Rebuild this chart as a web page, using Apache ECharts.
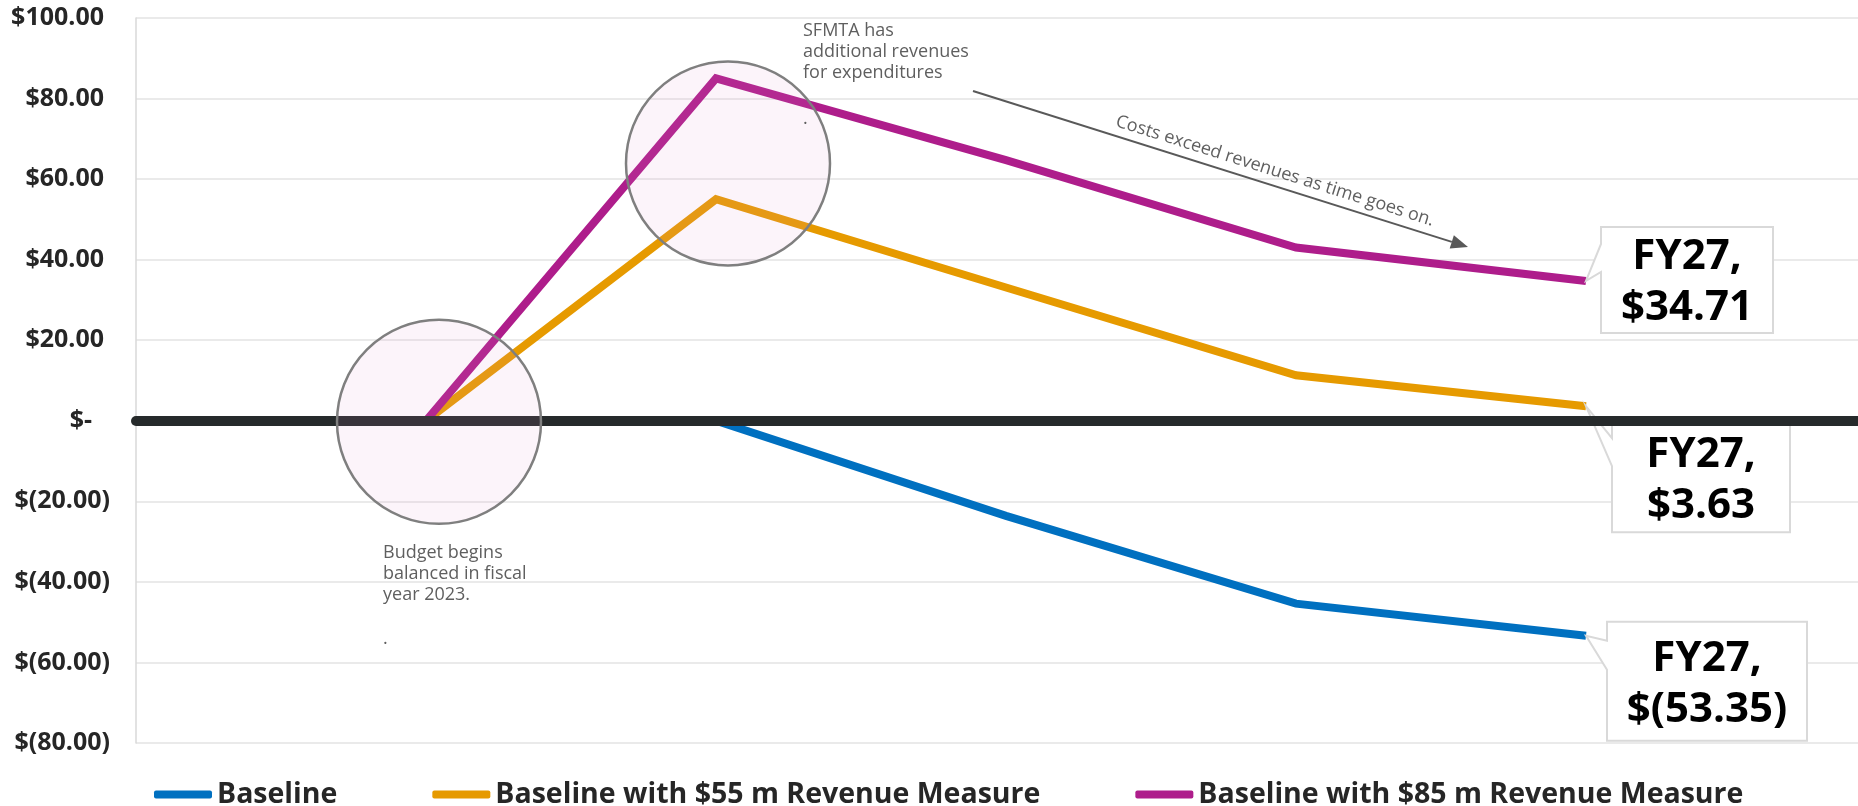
<!DOCTYPE html>
<html>
<head>
<meta charset="utf-8">
<title>SFMTA operating budget outlook</title>
<script src="https://cdn.jsdelivr.net/npm/echarts@6/dist/echarts.min.js"></script>
<style>
  html, body { margin: 0; padding: 0; background: #fff; }
  #chart { width: 1858px; height: 806px; }
</style>
</head>
<body>
<div id="chart"></div>
<script>
// fiscal years (the x axis carries no labels in the original)
const categories = ['FY23', 'FY24', 'FY25', 'FY26', 'FY27']
const fiscalYears = [2023, 2024, 2025, 2026, 2027]

// surplus / (deficit), $ millions
const baseline = [0, 0, -23.6, -45.4, -53.35]
const with55m = [0, 55, 33.1, 11.3, 3.63]
const with85m = [0, 85, 64.7, 43.0, 34.71]

const seriesNames = ['Baseline', 'Baseline with $55 m Revenue Measure', 'Baseline with $85 m Revenue Measure']
const seriesColors = ['#0070c0', '#e69a00', '#ae1d8b']
const seriesValues = [baseline, with55m, with85m]

// y ticks: $(80.00) .. $100.00 step 20
const yMin = -80
const yMax = 100
const yStep = 20

const FONT = '"Open Sans", "Noto Sans", sans-serif'
const DARK = '#262626'
const NOTE = '#5f5f5f'

// excel accounting style
const money = v => v === 0 ? '$-' : v > 0 ? '$' + v.toFixed(2) : '$(' + Math.abs(v).toFixed(2) + ')'

const chart = echarts.init(document.getElementById('chart'))

chart.setOption({
    animation: false,
    backgroundColor: '#fff',
    // plot runs a little past the right edge of the picture, like the original
    grid: { left: 136, width: 1740, top: 18, bottom: 63, outerBoundsMode: 'none' },
    legend: {
        left: 149,
        top: 775,
        itemWidth: 58,
        itemHeight: 8,
        itemGap: 95,
        icon: 'roundRect',
        data: seriesNames,
        textStyle: { fontFamily: FONT, fontSize: 28.5, fontWeight: 'bold', color: DARK }
    },
    xAxis: {
        type: 'value',
        min: 2022,
        max: 2028,
        z: 10,
        axisLine: { show: true, onZero: true, lineStyle: { color: '#262a2b', width: 10 } },
        axisTick: { show: false },
        axisLabel: { show: false },
        splitLine: { show: false }
    },
    yAxis: {
        type: 'value',
        min: yMin,
        max: yMax,
        interval: yStep,
        axisLine: { show: true, onZero: false, lineStyle: { color: '#d9d9d9', width: 1.5 } },
        axisTick: { show: false },
        splitLine: { lineStyle: { color: '#e3e3e3', width: 1.5 } },
        axisLabel: {
            margin: 26,
            formatter: v => {
                if (v > 0) return '{t|' + money(v) + '}{p| }'
                if (v === 0) return '{t|' + money(v) + '}{z| }'
                return '{t|' + money(v) + '}'
            },
            rich: {
                t: { fontFamily: FONT, fontSize: 25, fontWeight: 'bold', color: DARK },
                p: { width: 6 },
                z: { width: 18 }
            }
        }
    },
    series: seriesNames.map((name, k) => ({
        name,
        type: 'line',
        symbol: 'none',
        color: seriesColors[k],
        lineStyle: { width: 8, color: seriesColors[k], join: 'miter' },
        data: fiscalYears.map((y, i) => [y, seriesValues[k][i]])
    }))
})

// annotations, anchored on the data points
const pt = (k, i) => chart.convertToPixel({ gridIndex: 0 }, [fiscalYears[i], seriesValues[k][i]])

const circle = (p, dx, dy) => ({
    type: 'circle',
    z: 100,
    shape: { cx: p[0] + dx, cy: p[1] + dy, r: 102 },
    style: { fill: 'rgba(225,150,205,0.1)', stroke: '#7f7f7f', lineWidth: 2.5 }
})

const last = categories.length - 1
const callout = (k, dx, dy, w, h, wedge) => {
    const p = pt(k, last)
    const bx = p[0] + dx
    const by = p[1] + dy
    const v = seriesValues[k][last]
    return [{
        type: 'polygon',
        z: 5,
        shape: { points: [[bx, by], [bx + w, by], [bx + w, by + h], [bx, by + h],
            [bx, p[1] + wedge[1]], [p[0], p[1]], [bx, p[1] + wedge[0]]] },
        style: { fill: '#fff', stroke: '#d9d9d9', lineWidth: 2 }
    }, {
        type: 'text',
        z: 6,
        x: bx + w / 2,
        y: by + h / 2 + 3,
        style: {
            text: '{a|' + categories[last] + ',}\n{' + (v < 0 ? 'n' : 'a') + '|' + money(v) + '}',
            align: 'center',
            verticalAlign: 'middle',
            rich: {
                a: { fontFamily: FONT, fontSize: 42, fontWeight: 'bold', color: DARK, lineHeight: 51, align: 'center' },
                n: { fontFamily: FONT, fontSize: 42, fontWeight: 'bold', color: '#ff0000', lineHeight: 51, align: 'center' }
            }
        }
    }]
}

const note = (x, y, text) => ({
    type: 'text',
    z: 100,
    x, y,
    style: { text, fontFamily: FONT, fontSize: 18, lineHeight: 21, fill: NOTE, align: 'left', verticalAlign: 'top' }
})

// "costs exceed revenues" arrow
const a0 = [973, 91]
const a1 = [1468, 247]
const len = Math.hypot(a1[0] - a0[0], a1[1] - a0[1])
const ux = (a1[0] - a0[0]) / len
const uy = (a1[1] - a0[1]) / len
const hb = [a1[0] - 17 * ux, a1[1] - 17 * uy]
const angle = Math.atan2(a1[1] - a0[1], a1[0] - a0[0])

chart.setOption({
    graphic: [
        circle(pt(0, 0), 13, 1),
        circle(pt(2, 1), 12, 85),
        ...callout(2, 15, -54, 172, 106, [-37, -9]),
        ...callout(1, 26, 16, 178, 110, [32, 60]),
        ...callout(0, 21, -14, 200, 119, [5, 34]),
        note(803, 20, 'SFMTA has\nadditional revenues\nfor expenditures'),
        note(803, 108, '.'),
        note(383, 542, 'Budget begins\nbalanced in fiscal\nyear 2023.'),
        note(383, 628, '.'),
        {
            type: 'line',
            z: 100,
            shape: { x1: a0[0], y1: a0[1], x2: hb[0], y2: hb[1] },
            style: { stroke: '#595959', lineWidth: 2 }
        },
        {
            type: 'polygon',
            z: 100,
            shape: { points: [a1, [hb[0] - 7 * uy, hb[1] + 7 * ux], [hb[0] + 7 * uy, hb[1] - 7 * ux]] },
            style: { fill: '#595959' }
        },
        {
            type: 'text',
            z: 100,
            x: 1275,
            y: 171,
            rotation: -angle,
            style: {
                text: 'Costs exceed revenues as time goes on.',
                fontFamily: FONT, fontSize: 18, fill: NOTE,
                align: 'center', verticalAlign: 'middle'
            }
        }
    ]
})
</script>
</body>
</html>
